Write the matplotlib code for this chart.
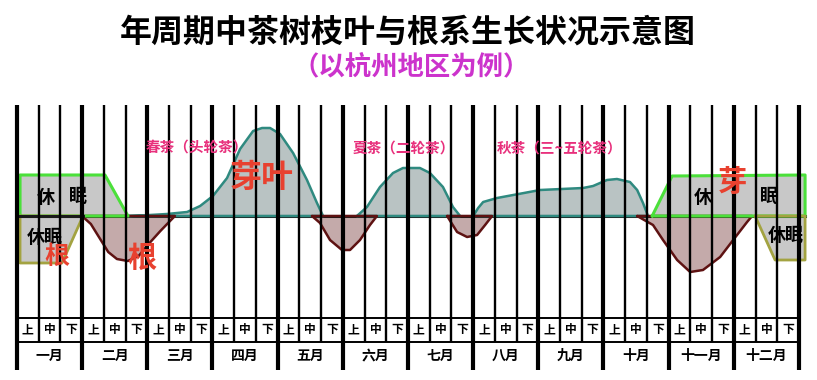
import matplotlib
matplotlib.use("Agg")
import matplotlib.pyplot as plt

plt.rcParams['font.family'] = ['Noto Sans CJK SC', 'DejaVu Sans']

# ---------------- data (x in dekads from 1 Jan, y in growth units) ----------------
months = ['一月', '二月', '三月', '四月', '五月', '六月', '七月', '八月', '九月', '十月', '十一月', '十二月']
dekad_labels = ['上', '中', '下']

# shoot/leaf growth (teal)
spring_x = [5.11, 6.12, 6.9, 7.83, 8.43, 9.02, 9.67, 10.27, 10.87, 11.28, 11.65, 12.11, 12.71, 13.35, 13.81, 14.09]
spring_y = [0, 1, 2, 4, 10, 20, 38, 67, 85, 88, 88, 82, 63, 36, 13, 0]
summer_x = [15.65, 16.11, 16.71, 17.31, 17.77, 18.55, 19.01, 19.61, 20.07, 20.4]
summer_y = [0, 9, 29, 43, 48, 48, 43, 29, 9, 0]
autumn_x = [21.0, 21.23, 21.46, 22.1, 24.08, 26.06, 26.52, 27.16, 27.62, 28.22, 28.55, 28.82, 29.05]
autumn_y = [0, 8, 14, 18, 26, 28, 30, 36, 37, 34, 26, 13, 0]

# root growth (maroon)
root1_x = [2.99, 3.4, 3.8, 4.2, 4.6, 5.1, 5.6, 6.1, 6.6, 7.0, 7.27]
root1_y = [0, -8, -22, -36, -43, -45, -40, -27, -15, -6, 0]
root2_x = [13.58, 13.95, 14.41, 14.96, 15.33, 15.79, 16.25, 16.57]
root2_y = [0, -7, -24, -34, -34, -24, -9, 0]
root3_x = [19.8, 20.26, 20.72, 21.18, 21.55, 21.87]
root3_y = [0, -16, -21, -19, -9, 0]
root4_x = [28.55, 29.28, 29.74, 30.39, 30.99, 31.58, 32.37, 32.97, 33.61, 33.84]
root4_y = [0, -9, -24, -44, -56, -54, -41, -24, -6, 0]

# dormancy blocks
shoot_dorm1_x = [0.14, 0.14, 4.05, 5.11]
shoot_dorm1_y = [0, 41, 41, 0]
shoot_dorm2_x = [29.24, 30.16, 36.28, 36.28]
shoot_dorm2_y = [0, 40, 41, 0]
root_dorm1_x = [0.14, 3.04, 2.07, 0.14]
root_dorm1_y = [0, 0, -47, -47]
root_dorm2_x = [33.98, 34.9, 36.28, 36.28]
root_dorm2_y = [0, -44, -44, 0]

# ---------------- figure ----------------
fig = plt.figure(figsize=(8.17, 3.80), dpi=100)
ax = fig.add_axes([0, 0, 1, 1])
ax.set_xlim(-0.7826, 36.829)
ax.set_ylim(-164, 216)
ax.axis('off')

LEAF_FILL, LEAF_EDGE = '#b9c3c3', '#2f8a80'
ROOT_FILL, ROOT_EDGE = '#c4aaaa', '#5e1212'
DORM_FILL = '#c8c8c8'
GREEN_EDGE = '#4be03a'
OLIVE_EDGE = '#a3a341'

# baseline
ax.plot([0.14, 36.28], [0, 0], color='#1a1a1a', lw=2.2, zorder=2)

def poly(xs, ys, fc, ec, lw=1.8):
    ax.fill(xs, ys, facecolor=fc, edgecolor='none', zorder=1)
    ax.plot(list(xs) + [xs[0]], list(ys) + [ys[0]], color=ec, lw=lw,
            solid_joinstyle='round', solid_capstyle='round', zorder=2)

for xs, ys in [(spring_x, spring_y), (summer_x, summer_y), (autumn_x, autumn_y)]:
    poly(xs, ys, LEAF_FILL, LEAF_EDGE)
for xs, ys in [(root1_x, root1_y), (root2_x, root2_y), (root3_x, root3_y), (root4_x, root4_y)]:
    poly(xs, ys, ROOT_FILL, ROOT_EDGE)
poly(shoot_dorm1_x, shoot_dorm1_y, DORM_FILL, GREEN_EDGE, lw=2.2)
poly(shoot_dorm2_x, shoot_dorm2_y, DORM_FILL, GREEN_EDGE, lw=2.2)
poly(root_dorm1_x, root_dorm1_y, DORM_FILL, OLIVE_EDGE, lw=2.0)
poly(root_dorm2_x, root_dorm2_y, DORM_FILL, OLIVE_EDGE, lw=2.0)
# dark line on top of root dormancy boundary
ax.plot([0.14, 3.04], [0, 0], color='#1a1a1a', lw=2.2, zorder=2)

# grid lines / table
n = 36
for i in range(n + 1):
    if i % 3 == 0:
        ax.plot([i, i], [111, -154], color='black', lw=3.0, zorder=3, solid_capstyle='butt')
    else:
        ax.plot([i, i], [111, -126], color='black', lw=1.7, zorder=3, solid_capstyle='butt')
ax.plot([0, n], [-102, -102], color='black', lw=1.4, zorder=3)
ax.plot([0, n], [-126, -126], color='black', lw=1.4, zorder=3)

for i in range(n):
    ax.text(i + 0.5, -114, dekad_labels[i % 3], ha='center', va='center',
            fontsize=8.5, fontweight='bold', zorder=5)
for m, name in enumerate(months):
    ax.text(3 * m + 1.5, -140, name, ha='center', va='center',
            fontsize=10, fontweight='bold', zorder=5)

# annotations
RED = '#e8412f'
PINK = '#e8307c'
ax.text(1.34, 19, '休', ha='center', va='center', fontsize=13, fontweight='bold', zorder=5)
ax.text(2.81, 19, '眠', ha='center', va='center', fontsize=13, fontweight='bold', zorder=5)
ax.text(1.29, -21, '休眠', ha='center', va='center', fontsize=13, fontweight='bold', zorder=5)
ax.text(1.84, -41, '根', ha='center', va='center', fontsize=18, fontweight='bold', color=RED, zorder=5)
ax.text(5.75, -42, '根', ha='center', va='center', fontsize=21, fontweight='bold', color=RED, zorder=5)
ax.text(11.28, 38, '芽叶', ha='center', va='center', fontsize=23, fontweight='bold', color=RED, zorder=5)
ax.text(31.58, 19, '休', ha='center', va='center', fontsize=13, fontweight='bold', zorder=5)
ax.text(32.92, 34, '芽', ha='center', va='center', fontsize=21, fontweight='bold', color=RED, zorder=5)
ax.text(34.62, 19, '眠', ha='center', va='center', fontsize=13, fontweight='bold', zorder=5)
ax.text(35.4, -19, '休眠', ha='center', va='center', fontsize=13, fontweight='bold', zorder=5)

ax.text(8.29, 69, '春茶（头轮茶）', ha='center', va='center', fontsize=10.5, fontweight='bold', color=PINK, zorder=5)
ax.text(17.82, 68, '夏茶（二轮茶）', ha='center', va='center', fontsize=10.5, fontweight='bold', color=PINK, zorder=5)
ax.text(25.0, 68, '秋茶（三~五轮茶）', ha='center', va='center', fontsize=10.5, fontweight='bold', color=PINK, zorder=5)

fig.text(408 / 817, 1 - 33 / 380, '年周期中茶树枝叶与根系生长状况示意图', ha='center', va='center',
         fontsize=23, fontweight='heavy', color='black')
fig.text(411 / 817, 1 - 67 / 380, '（以杭州地区为例）', ha='center', va='center',
         fontsize=19, fontweight='bold', color='#cc33cc')

fig.savefig('out.png', dpi=100, facecolor='white')
